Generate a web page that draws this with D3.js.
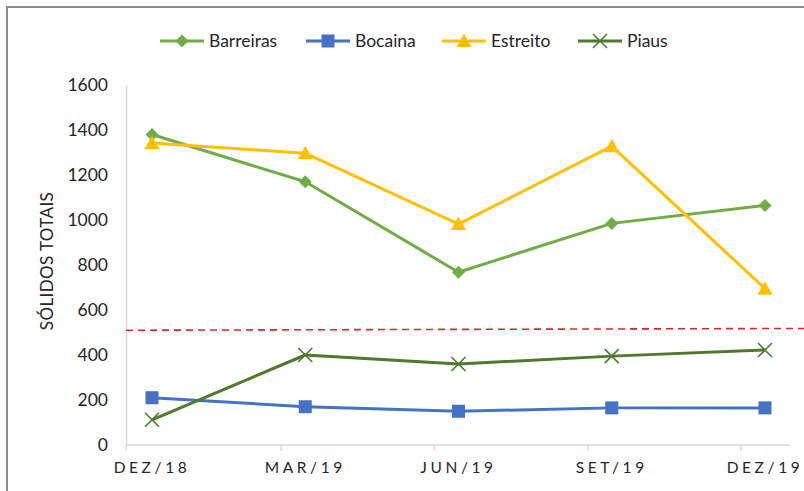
<!DOCTYPE html>
<html>
<head>
<meta charset="utf-8">
<script src="https://cdn.jsdelivr.net/npm/d3@7"></script>
<style>
  body { margin: 0; background: #fff; }
  svg { display: block; font-family: Lato, "Open Sans", sans-serif; }
</style>
</head>
<body>
<svg id="chart" width="804" height="491"></svg>
<script>
// data
const categories = ["DEZ/18", "MAR/19", "JUN/19", "SET/19", "DEZ/19"];
const barreiras = [1380, 1170, 768, 985, 1065];
const bocaina = [210, 170, 150, 165, 165];
const estreito = [1342, 1297, 982, 1328, 695];
const piaus = [112, 400, 360, 395, 422];
const limite = 510;
const yTicks = [0, 200, 400, 600, 800, 1000, 1200, 1400, 1600];

const series = [
    { name: "Barreiras", values: barreiras, color: "#70ad47", marker: "diamond", width: 3 },
    { name: "Bocaina", values: bocaina, color: "#4472c4", marker: "square", width: 3 },
    { name: "Estreito", values: estreito, color: "#ffc000", marker: "triangle", width: 3 },
    { name: "Piaus", values: piaus, color: "#4f7a2d", marker: "cross", width: 3 }
];

const svg = d3.select("#chart");

// frame around the chart (cut off on the right/bottom in the original)
svg.append("rect")
    .attr("x", 7).attr("y", 7)
    .attr("width", 820).attr("height", 520)
    .attr("fill", "none")
    .attr("stroke", "#8c8c8c")
    .attr("stroke-width", 2);

const axisLeft = 126, axisRight = 790;

const x = d3.scalePoint()
    .domain(categories)
    .range([152, 765]);

const y = d3.scaleLinear()
    .domain([0, 1600])
    .range([445, 85]);

// y axis labels
const yAxis = svg.append("g")
    .attr("transform", `translate(${axisLeft},0)`)
    .call(d3.axisLeft(y).tickValues(yTicks).tickFormat(d3.format("d")).tickSize(0).tickPadding(18))
    .call(g => g.select(".domain").attr("stroke", "#d9d9d9").attr("stroke-width", 1.5));
yAxis.selectAll("text")
    .attr("font-family", "Lato, 'Open Sans', sans-serif")
    .attr("font-size", 17.5)
    .attr("fill", "#262626");

// x axis
const xg = svg.append("g");
xg.append("line")
    .attr("x1", axisLeft).attr("x2", axisRight)
    .attr("y1", y(0)).attr("y2", y(0))
    .attr("stroke", "#d9d9d9").attr("stroke-width", 1.5);
// tick marks sit a bit left of each point (as in the original)
xg.selectAll(".tick")
    .data(categories)
    .join("line")
    .attr("x1", (d, i) => i === 0 ? axisLeft : x(d) - 24)
    .attr("x2", (d, i) => i === 0 ? axisLeft : x(d) - 24)
    .attr("y1", y(0)).attr("y2", y(0) + 6)
    .attr("stroke", "#d9d9d9").attr("stroke-width", 1.5);
xg.selectAll("text")
    .data(categories)
    .join("text")
    .attr("x", d => x(d))
    .attr("y", 473)
    .attr("text-anchor", "middle")
    .attr("font-size", 15.5)
    .attr("letter-spacing", 3.6)
    .attr("fill", "#262626")
    .text(d => d);

// y axis title
svg.append("text")
    .attr("transform", "translate(53,261) rotate(-90)")
    .attr("text-anchor", "middle")
    .attr("font-size", 17)
    .attr("letter-spacing", 0.4)
    .attr("fill", "#262626")
    .text("SÓLIDOS TOTAIS");

// limit line
svg.append("line")
    .attr("x1", axisLeft).attr("x2", 804)
    .attr("y1", y(limite)).attr("y2", y(limite + 8))
    .attr("stroke", "#e0262b")
    .attr("stroke-width", 1.6)
    .attr("stroke-dasharray", "7,5");

function drawMarker(g, type, color) {
    if (type === "diamond") {
        g.append("path").attr("d", "M0,-6.5L6.5,0L0,6.5L-6.5,0Z").attr("fill", color);
    } else if (type === "square") {
        g.append("rect").attr("x", -6.5).attr("y", -6.5).attr("width", 13).attr("height", 13).attr("fill", color);
    } else if (type === "triangle") {
        g.append("path").attr("d", "M0,-7.5L7.5,6L-7.5,6Z").attr("fill", color);
    } else {
        g.append("path").attr("d", "M-7,-7L7,7M-7,7L7,-7")
            .attr("stroke", color).attr("stroke-width", 1.6).attr("fill", "none");
    }
}

const line = d3.line()
    .x((d, i) => x(categories[i]))
    .y(d => y(d));

series.forEach(s => {
    svg.append("path")
        .datum(s.values)
        .attr("d", line)
        .attr("fill", "none")
        .attr("stroke", s.color)
        .attr("stroke-width", s.width)
        .attr("stroke-linejoin", "round");
    s.values.forEach((v, i) => {
        const g = svg.append("g").attr("transform", `translate(${x(categories[i])},${y(v)})`);
        drawMarker(g, s.marker, s.color);
    });
});

// legend
const legendX = [160, 306, 442, 578];
const legend = svg.append("g").attr("transform", "translate(0,41)");
series.forEach((s, i) => {
    const g = legend.append("g").attr("transform", `translate(${legendX[i]},0)`);
    g.append("line").attr("x1", 0).attr("x2", 44).attr("y1", 0).attr("y2", 0)
        .attr("stroke", s.color).attr("stroke-width", 3);
    const m = g.append("g").attr("transform", "translate(22,0)");
    drawMarker(m, s.marker, s.color);
    g.append("text")
        .attr("x", 49).attr("y", 6)
        .attr("font-size", 17.5)
        .attr("fill", "#262626")
        .text(s.name);
});
</script>
</body>
</html>
